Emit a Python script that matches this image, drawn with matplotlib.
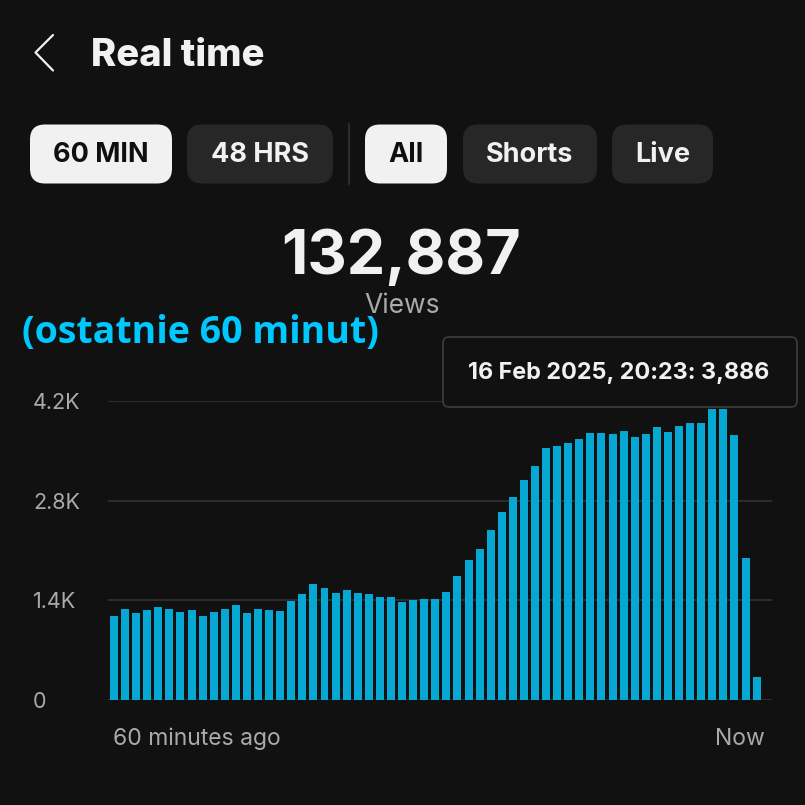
import matplotlib
matplotlib.use("Agg")
import matplotlib.pyplot as plt
from matplotlib.patches import FancyBboxPatch

# per-minute views, oldest first
views = [1180, 1285, 1225, 1260, 1305, 1285, 1235, 1260, 1180, 1230,
         1280, 1330, 1225, 1285, 1260, 1255, 1390, 1485, 1625, 1575,
         1500, 1545, 1500, 1495, 1445, 1445, 1370, 1410, 1415, 1415,
         1520, 1745, 1965, 2120, 2385, 2645, 2850, 3090, 3280, 3540,
         3565, 3615, 3665, 3755, 3755, 3730, 3780, 3700, 3730, 3830,
         3770, 3855, 3886, 3886, 4090, 4090, 3720, 1990, 330]
y_ticks = [0, 1400, 2800, 4200]
y_labels = ["0", "1.4K", "2.8K", "4.2K"]
x_labels = ["60 minutes ago", "Now"]
total_views = "132,887"
tooltip = "16 Feb 2025, 20:23: 3,886"
buttons = ["60 MIN", "48 HRS", "All", "Shorts", "Live"]
selected = ["60 MIN", "All"]

BG = "#111111"
BAR = "#07a7d3"
GREY = "#aaaaaa"
WHITE = "#f1f1f1"
W = H = 805

plt.rcParams["font.family"] = ["Inter", "DejaVu Sans"]
fig = plt.figure(figsize=(W / 100, H / 100), dpi=100, facecolor=BG)

# chart area (pixels: x 108..772, y 401..700)
ax = fig.add_axes([108 / W, (H - 700) / H, 664 / W, 299 / H], facecolor=BG)
ax.bar(range(len(views)), views, width=0.72, color=BAR, zorder=2)
ax.set_ylim(0, 4200)
ax.set_xlim(-0.54, 59.39)
ax.set_yticks(y_ticks, y_labels)
ax.set_xticks([-0.09, len(views) - 1 + 0.76], x_labels)
for lab in ax.get_yticklabels():
    lab.set_ha("left")
xl = ax.get_xticklabels()
xl[0].set_ha("left")
xl[1].set_ha("right")
ax.tick_params(axis="y", length=0, pad=54, labelsize=15.5, labelcolor=GREY)
ax.tick_params(axis="x", length=0, pad=20, labelsize=16.5, labelcolor=GREY)
ax.grid(axis="y", color="#303030", lw=1.3)
ax.set_axisbelow(True)
for s in ax.spines.values():
    s.set_visible(False)

# overlay in pixel coordinates for the app UI
ui = fig.add_axes([0, 0, 1, 1], facecolor="none")
ui.set_xlim(0, W)
ui.set_ylim(H, 0)
ui.axis("off")

# back chevron + title
ui.plot([53, 35.5, 53], [35, 52.5, 70.5], color=WHITE, lw=1.6, solid_capstyle="round")
ui.text(91, 65.5, "Real time", color=WHITE, fontsize=27.5, fontweight="heavy", va="baseline")

# filter chips
chips = [(30, 172), (187, 333), (365, 447), (463, 597), (612, 713)]
for (x0, x1), name in zip(chips, buttons):
    on = name in selected
    ui.add_patch(FancyBboxPatch((x0, 124.5), x1 - x0, 59,
                                boxstyle="round,pad=0,rounding_size=15",
                                fc=WHITE if on else "#272727", ec="none"))
    ui.text((x0 + x1) / 2, 155.5, name, color="#0f0f0f" if on else WHITE,
            fontsize=19.5, fontweight="bold", ha="center", va="center")
ui.plot([349, 349], [124, 184], color="#333333", lw=1.2)

# headline number
ui.text(401, 274, total_views, color=WHITE, fontsize=44, fontweight="bold",
        ha="center", va="baseline")
ui.text(402, 313, "Views", color=GREY, fontsize=19, ha="center", va="baseline")
ui.text(22, 343, "(ostatnie 60 minut)", color="#00c8ff", fontsize=27,
        fontweight="bold", family=["Open Sans", "DejaVu Sans"], va="baseline")

# hover tooltip
ui.add_patch(FancyBboxPatch((443, 337), 354, 70,
                            boxstyle="round,pad=0,rounding_size=6",
                            fc=BG, ec="#3a3a3a", lw=1.3))
ui.text(619, 379, tooltip, color=WHITE, fontsize=16.8, fontweight="bold",
        ha="center", va="baseline")

fig.savefig("out.png", dpi=100, facecolor=BG)
